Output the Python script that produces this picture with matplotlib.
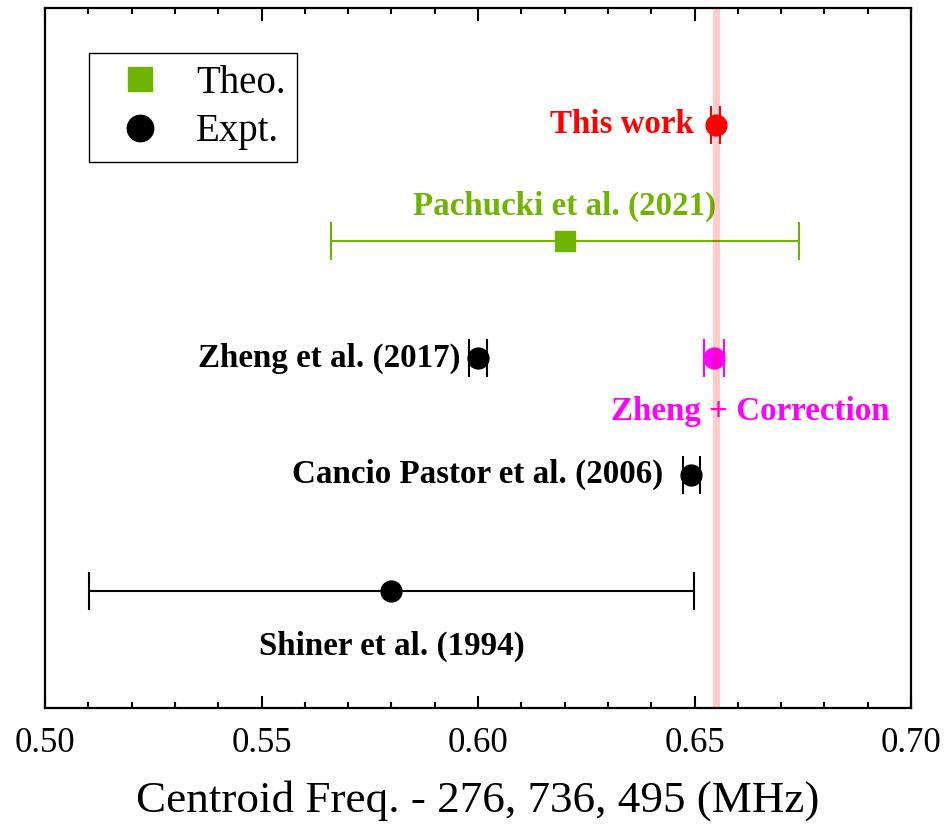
import matplotlib.pyplot as plt
from matplotlib.lines import Line2D
from matplotlib.ticker import MultipleLocator

plt.rcParams['font.family'] = ['Liberation Serif', 'DejaVu Serif']

# data (offset from 276 736 495 MHz)
names = ["This work", "Pachucki et al. (2021)", "Zheng et al. (2017)",
         "Zheng + Correction", "Cancio Pastor et al. (2006)", "Shiner et al. (1994)"]
freq = [0.6549, 0.6201, 0.6000, 0.6545, 0.6493, 0.5800]
err = [0.0010, 0.054, 0.0020, 0.0022, 0.0020, 0.0698]
ypos = [6, 5, 4, 4, 3, 2]
colors = ["#ff0000", "#6fb400", "#000000", "#ff00ff", "#000000", "#000000"]
markers = ["o", "s", "o", "o", "o", "o"]
msize = [15, 14, 15, 15, 15, 15]

fig = plt.figure(figsize=(9.46, 8.27), dpi=100)
ax = fig.add_axes([0.0476, 0.1439, 0.9154, 0.8464])

for i in range(len(names)):
    ax.errorbar(freq[i], ypos[i], xerr=err[i], fmt=markers[i], color=colors[i],
                ms=msize[i], capsize=14, elinewidth=1.5, capthick=1.5, zorder=3)

# label positions
fs = 23.8
ax.text(0.6499, 6, names[0], color=colors[0], ha='right', va='center', fontsize=fs, fontweight='bold')
ax.text(0.6199, 5.30, names[1], color=colors[1], ha='center', va='center', fontsize=fs, fontweight='bold')
ax.text(0.5960, 4, names[2], color=colors[2], ha='right', va='center', fontsize=fs, fontweight='bold')
ax.text(0.6630, 3.54, names[3], color=colors[3], ha='center', va='center', fontsize=fs, fontweight='bold')
ax.text(0.6428, 3, names[4], color=colors[4], ha='right', va='center', fontsize=fs, fontweight='bold')
ax.text(0.5800, 1.53, names[5], color=colors[5], ha='center', va='center', fontsize=fs, fontweight='bold')

ax.axvline(0.6550, color='red', alpha=0.2, lw=5.2, zorder=5)

ax.set_xlim(0.50, 0.70)
ax.set_ylim(1.0, 7.0)
ax.set_yticks([])
ax.xaxis.set_major_locator(MultipleLocator(0.05))
ax.xaxis.set_minor_locator(MultipleLocator(0.01))
ax.tick_params(axis='x', which='both', direction='in', top=True, labelsize=25, width=1.5)
ax.tick_params(axis='x', which='major', length=9, pad=14)
ax.tick_params(axis='x', which='minor', length=4.5)
ax.xaxis.set_major_formatter(plt.FormatStrFormatter('%.2f'))
for s in ax.spines.values():
    s.set_linewidth(1.6)
ax.set_xlabel("Centroid Freq. - 276, 736, 495 (MHz)", fontsize=32.5, labelpad=14)

handles = [Line2D([], [], ls='none', marker='s', color=colors[1], ms=17),
           Line2D([], [], ls='none', marker='o', color='black', ms=19)]
leg = ax.legend(handles, ["Theo.", "Expt."], loc='upper left', bbox_to_anchor=(0.0508, 0.9357),
                borderaxespad=0, fontsize=28, fancybox=False, edgecolor='black', framealpha=1,
                handletextpad=0.45, borderpad=0.3, labelspacing=0.3, handlelength=2.0)
leg.get_frame().set_linewidth(1.0)

fig.savefig('out.png', dpi=100)
